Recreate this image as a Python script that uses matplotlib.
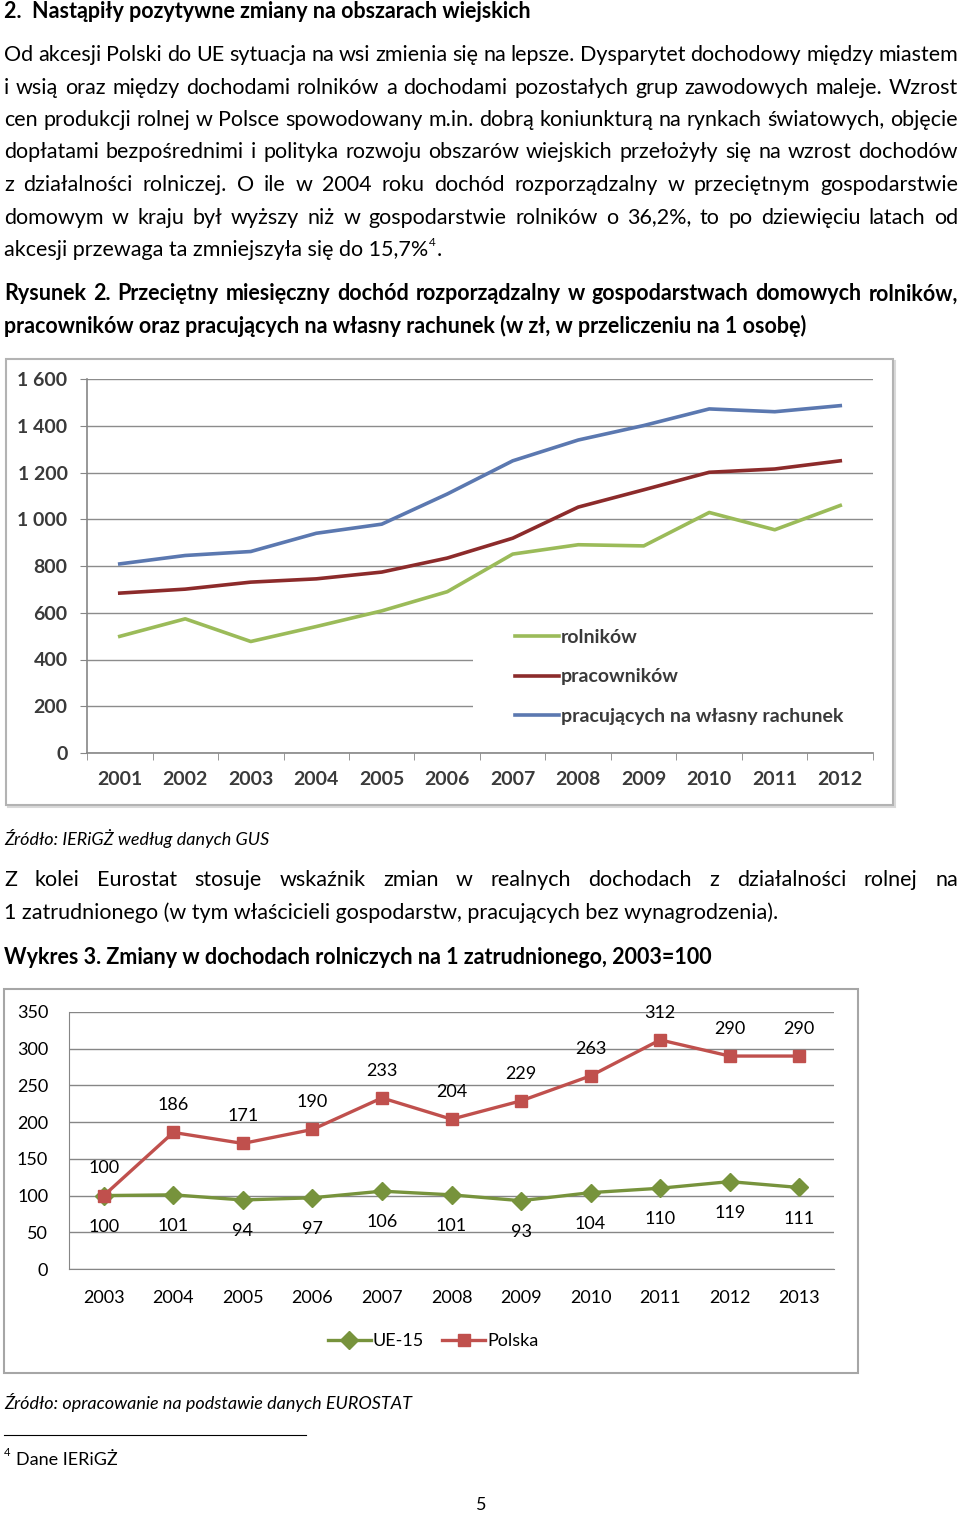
import matplotlib.pyplot as plt
from matplotlib.patches import Rectangle

plt.rcParams['font.family'] = ['Lato', 'DejaVu Sans']

W, H = 960, 1515

# Rysunek 2 - dochod rozporzadzalny (zl / osobe)
years1 = ['2001', '2002', '2003', '2004', '2005', '2006',
          '2007', '2008', '2009', '2010', '2011', '2012']
rolnikow = [499, 574, 477, 541, 608, 690, 851, 891, 886, 1029, 955, 1059]
pracownikow = [684, 701, 731, 745, 774, 834, 919, 1052, 1126, 1201, 1215, 1250]
wlasny_rachunek = [809, 845, 862, 940, 979, 1108, 1250, 1339, 1401, 1472, 1460, 1486]
y1_ticks = [0, 200, 400, 600, 800, 1000, 1200, 1400, 1600]
y1_labels = ['0', '200', '400', '600', '800', '1 000', '1 200', '1 400', '1 600']
names1 = ['rolników', 'pracowników', 'pracujących na własny rachunek']

# Wykres 3 - dochody rolnicze na 1 zatrudnionego, 2003=100
years2 = ['2003', '2004', '2005', '2006', '2007', '2008',
          '2009', '2010', '2011', '2012', '2013']
ue15 = [100, 101, 94, 97, 106, 101, 93, 104, 110, 119, 111]
polska = [100, 186, 171, 190, 233, 204, 229, 263, 312, 290, 290]
y2_ticks = [0, 50, 100, 150, 200, 250, 300, 350]

para1 = [
    'Od akcesji Polski do UE sytuacja na wsi zmienia się na lepsze. Dysparytet dochodowy między miastem',
    'i wsią oraz między dochodami rolników a dochodami pozostałych grup zawodowych maleje. Wzrost',
    'cen produkcji rolnej w Polsce spowodowany m.in. dobrą koniunkturą na rynkach światowych, objęcie',
    'dopłatami bezpośrednimi i polityka rozwoju obszarów wiejskich przełożyły się na wzrost dochodów',
    'z działalności rolniczej. O ile w 2004 roku dochód rozporządzalny w przeciętnym gospodarstwie',
    'domowym w kraju był wyższy niż w gospodarstwie rolników o 36,2%, to po dziewięciu latach od',
]
para1_last = 'akcesji przewaga ta zmniejszyła się do 15,7%'
para2 = [
    'Z kolei Eurostat stosuje wskaźnik zmian w realnych dochodach z działalności rolnej na',
]
para2_last = '1 zatrudnionego (w tym właścicieli gospodarstw, pracujących bez wynagrodzenia).'

FS = 15.5

fig = plt.figure(figsize=(W / 100, H / 100), dpi=100)
page = fig.add_axes([0, 0, 1, 1])
page.set_xlim(0, W)
page.set_ylim(H, 0)
page.axis('off')
renderer = fig.canvas.get_renderer()


def put(txt, y, x0=4, x1=None, **kw):
    kw.setdefault('fontsize', FS)
    if x1 is None:
        t = page.text(x0, y, txt, va='center', **kw)
        return x0 + t.get_window_extent(renderer).width
    words = txt.split(' ')
    arts = [page.text(0, y, w, va='center', **kw) for w in words]
    widths = [a.get_window_extent(renderer).width for a in arts]
    gap = (x1 - x0 - sum(widths)) / (len(words) - 1)
    x = x0
    for a, w in zip(arts, widths):
        a.set_x(x)
        x += w + gap
    return x1


def px_axes(x0, y0, x1, y1):
    return fig.add_axes([x0 / W, 1 - y1 / H, (x1 - x0) / W, (y1 - y0) / H])


# ---- text of the page ----
put('2.  Nastąpiły pozytywne zmiany na obszarach wiejskich', 11, fontweight='bold')
for i, s in enumerate(para1):
    put(s, 55 + i * 32.5, x1=958)
xe = put(para1_last, 250)
page.text(xe + 1, 242, '4', fontsize=8.5, va='center')
page.text(xe + 8, 250, '.', fontsize=FS, va='center')

put('Rysunek 2. Przeciętny miesięczny dochód rozporządzalny w gospodarstwach domowych rolników,',
    294, x1=958, fontweight='bold')
put('pracowników oraz pracujących na własny rachunek (w zł, w przeliczeniu na 1 osobę)',
    326, fontweight='bold')

put('Źródło: IERiGŻ według danych GUS', 839, fontsize=13, style='italic')
for s in para2:
    put(s, 880, x1=958)
put(para2_last, 913)
put('Wykres 3. Zmiany w dochodach rolniczych na 1 zatrudnionego, 2003=100', 958, fontweight='bold')
put('Źródło: opracowanie na podstawie danych EUROSTAT', 1403, fontsize=13, style='italic')
page.plot([4, 306], [1435, 1435], color='black', lw=0.8)
page.text(4, 1452, '4', fontsize=8, va='center')
page.text(16, 1460, 'Dane IERiGŻ', fontsize=13, va='center')
page.text(481, 1505, '5', fontsize=13, va='center', ha='center')

# chart frames
page.add_patch(Rectangle((8, 361), 887, 446, fc='none', ec='#d9d9d9', lw=1.5))
page.add_patch(Rectangle((6, 359), 887, 446, fc='white', ec='#b3b3b3', lw=1.5))
page.add_patch(Rectangle((4, 989), 854, 384, fc='white', ec='#a6a6a6', lw=1.5))

# ---- Rysunek 2 ----
ax1 = px_axes(87, 379, 873, 753)
x1 = range(len(years1))
ax1.plot(x1, rolnikow, color='#9bbb59', lw=2.6, label=names1[0], zorder=3)
ax1.plot(x1, pracownikow, color='#8c2b2b', lw=2.6, label=names1[1], zorder=3)
ax1.plot(x1, wlasny_rachunek, color='#5b78b0', lw=2.6, label=names1[2], zorder=3)
ax1.set_xlim(-0.5, len(years1) - 0.5)
ax1.set_ylim(0, 1600)
ax1.set_yticks(y1_ticks)
ax1.set_yticklabels(y1_labels)
ax1.set_xticks(list(x1))
ax1.set_xticklabels(years1)
ax1.set_xticks([i - 0.5 for i in range(len(years1) + 1)], minor=True)
ax1.set_axisbelow(True)
ax1.grid(axis='y', color='#8c8c8c', lw=1)
ax1.patch.set_alpha(0)
for side in ['top', 'right']:
    ax1.spines[side].set_visible(False)
for side in ['left', 'bottom']:
    ax1.spines[side].set_color('#868686')
    ax1.spines[side].set_linewidth(1.2)
ax1.tick_params(axis='y', length=5, color='#868686', labelsize=14,
                labelcolor='#3a3a3a', pad=9)
ax1.tick_params(axis='x', which='major', length=0, labelsize=14,
                labelcolor='#3a3a3a', pad=13)
ax1.tick_params(axis='x', which='minor', length=5, color='#868686')
for lab in ax1.get_xticklabels() + ax1.get_yticklabels():
    lab.set_fontweight('bold')
ax1.add_patch(Rectangle((5.4, 25), 6.1, 545, fc='white', ec='none', zorder=1))
ax1.legend(loc='upper left', bbox_to_anchor=(0.5445, 0.332), frameon=False,
           handlelength=2.27, handletextpad=0.1, labelspacing=1.16,
           borderpad=0, borderaxespad=0, labelcolor='#3a3a3a',
           prop={'weight': 'bold', 'size': 14})

# ---- Wykres 3 ----
ax2 = px_axes(69, 1012, 834, 1269)
x2 = range(len(years2))
ax2.plot(x2, ue15, color='#77933c', lw=2.4, marker='D', ms=9, label='UE-15', zorder=3)
ax2.plot(x2, polska, color='#c0504d', lw=2.4, marker='s', ms=8.5, label='Polska', zorder=3)
for i in x2:
    ax2.annotate(str(polska[i]), (i, polska[i]), xytext=(0, 19.5), textcoords='offset points',
                 ha='center', va='center', fontsize=13)
    ax2.annotate(str(ue15[i]), (i, ue15[i]), xytext=(0, -22.5), textcoords='offset points',
                 ha='center', va='center', fontsize=13)
ax2.set_xlim(-0.5, len(years2) - 0.5)
ax2.set_ylim(0, 350)
ax2.set_yticks(y2_ticks)
ax2.set_xticks(list(x2))
ax2.set_xticklabels(years2)
ax2.set_axisbelow(True)
ax2.grid(axis='y', color='#868686', lw=1)
ax2.patch.set_alpha(0)
for side in ['top', 'right']:
    ax2.spines[side].set_visible(False)
ax2.spines['left'].set_color('#868686')
ax2.spines['bottom'].set_color('#868686')
ax2.tick_params(axis='y', length=0, labelsize=13, pad=15)
ax2.tick_params(axis='x', length=0, labelsize=13, pad=15)
fig.legend(*ax2.get_legend_handles_labels(), loc='center', ncol=2,
           bbox_to_anchor=(433 / W, 1 - 1341 / H), frameon=False, fontsize=13,
           handlelength=2.4, handletextpad=0.1, columnspacing=1.0)

fig.savefig('out.png', dpi=100)
